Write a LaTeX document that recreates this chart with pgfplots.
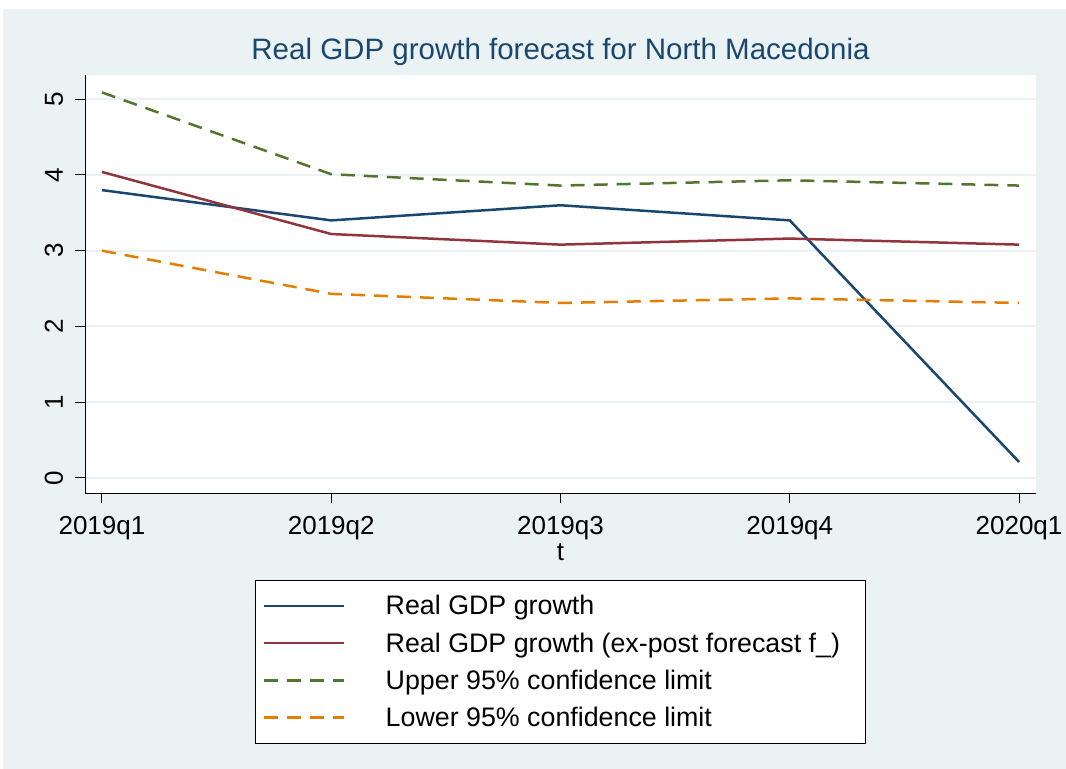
\documentclass[border=0pt]{standalone}
\usepackage{pgfplots}
\pgfplotsset{compat=1.18}
\usepackage{fontspec}
\setmainfont{Liberation Sans}
\definecolor{bg}{HTML}{EAF2F3}
\definecolor{snavy}{HTML}{1A476F}
\definecolor{smaroon}{HTML}{90353B}
\definecolor{sgreen}{HTML}{55752F}
\definecolor{sorange}{HTML}{E37E00}
\pgfplotstableread{
x gdp fc up lo
0 3.80 4.04 5.09 3.00
1 3.40 3.22 4.01 2.43
2 3.60 3.08 3.86 2.31
3 3.40 3.16 3.93 2.37
4 0.21 3.08 3.86 2.31
}\datatable
\begin{document}
\begin{tikzpicture}[x=1bp,y=1bp]
\fill[white] (0,0) rectangle (1066,-769);
\fill[bg] (3,-9) rectangle (1066,-769);
\begin{axis}[
  at={(85bp,-493bp)}, anchor=south west,
  width=951bp, height=418bp, scale only axis,
  xmin=-0.074, xmax=4.074, ymin=-0.2, ymax=5.32,
  axis background/.style={fill=white},
  axis x line*=bottom, axis y line*=left,
  axis line style={-, black, line width=1bp},
  tick align=outside, major tick length=10bp,
  tick style={black, line width=1bp},
  xtick={0,1,2,3,4},
  xticklabels={2019q1,2019q2,2019q3,2019q4,2020q1},
  ytick={0,1,2,3,4,5},
  /pgf/number format/assume math mode=true,
  ymajorgrids, major grid style={bg, line width=2bp},
  tick label style={font=\fontsize{26bp}{30bp}\selectfont},
  yticklabel style={rotate=90, anchor=base, yshift=12bp},
  xticklabel style={anchor=base, yshift=-31bp},
  title={Real GDP growth forecast for North Macedonia},
  title style={at={(axis description cs:0.5,1.0239)}, anchor=base, color=snavy, font=\fontsize{29.5bp}{34bp}\selectfont},
  xlabel={t},
  xlabel style={at={(axis description cs:0.5,-0.1603)}, anchor=base, font=\fontsize{26bp}{30bp}\selectfont},
  legend style={at={(axis description cs:0.1788,-0.2081)}, anchor=north west,
    draw=black, line width=1bp, fill=white,
    font=\fontsize{26.8bp}{31bp}\selectfont, row sep=12.3bp, column sep=38.7bp,
    inner xsep=7bp, inner ysep=13bp},
  legend cell align=left,
  legend image code/.code={\draw[#1, line width=2.5bp] (0bp,0bp) -- (80bp,0bp);},
]
\addplot[snavy, line width=2.5bp] table[x=x, y=gdp] {\datatable};
\addlegendentry{Real GDP growth}
\addplot[smaroon, line width=2.5bp] table[x=x, y=fc] {\datatable};
\addlegendentry{Real GDP growth (ex-post forecast f\_)\hspace*{16.7bp}}
\addplot[sgreen, line width=2.5bp, dash pattern=on 14bp off 9bp] table[x=x, y=up] {\datatable};
\addlegendentry{Upper 95\% confidence limit}
\addplot[sorange, line width=2.5bp, dash pattern=on 14bp off 9bp] table[x=x, y=lo] {\datatable};
\addlegendentry{Lower 95\% confidence limit}
\end{axis}
\end{tikzpicture}
\end{document}
